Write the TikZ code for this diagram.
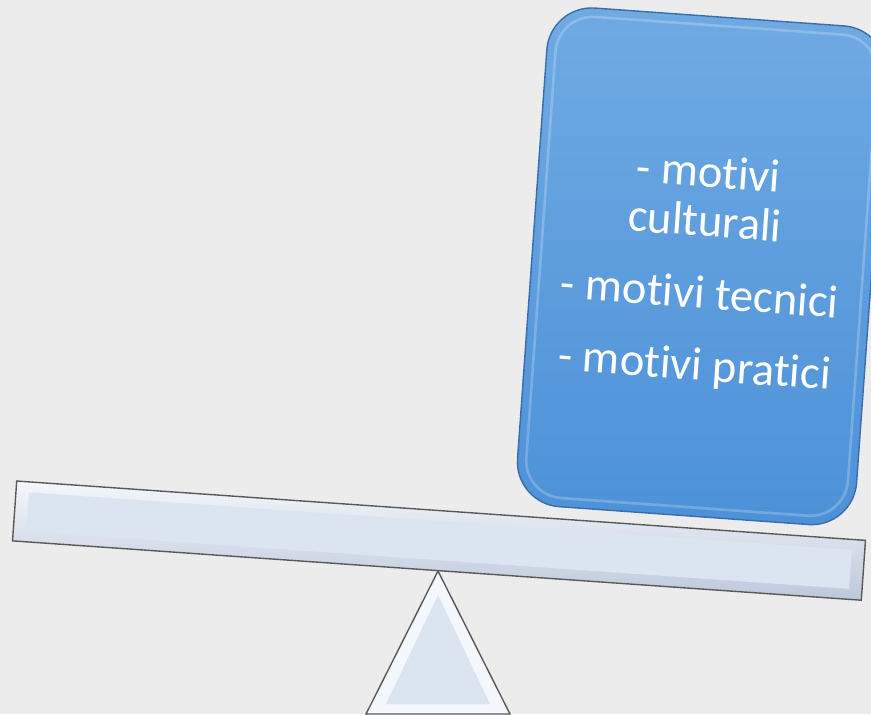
\documentclass[tikz,border=0pt]{standalone}
\usepackage{fontspec}
\setmainfont[Ligatures=NoCommon]{Carlito}
\usetikzlibrary{shapes.geometric}

\definecolor{sfondo}{RGB}{236,236,236}
\definecolor{barra}{RGB}{219,229,242}
\definecolor{barrachiara}{RGB}{244,247,252}
\definecolor{barrascura}{RGB}{188,200,218}
\definecolor{bluchiaro}{RGB}{112,170,227}
\definecolor{bluscuro}{RGB}{76,145,216}
\definecolor{blubordo}{RGB}{58,110,170}

\begin{document}
\begin{tikzpicture}[x=0.02cm, y=-0.02cm,
    % Stili
    trave/.style={
        draw=black!65, thick, inner sep=0pt,
        top color=barrachiara, bottom color=barrascura,
        minimum width=17.02cm, minimum height=1.2cm, rotate=-4
    },
    faccia/.style={
        fill=barra, inner sep=0pt, rotate=-4
    },
    peso/.style={
        draw=blubordo, thick, rounded corners=0.9cm,
        top color=bluchiaro, bottom color=bluscuro,
        minimum width=6.8cm, minimum height=10cm, rotate=-4.1,
        text=white, align=center, font=\fontsize{26.5}{28}\selectfont
    },
    bordino/.style={
        draw=white, draw opacity=0.22, line width=1.5pt, rounded corners=0.75cm,
        inner sep=0pt, rotate=-4.1
    }
]

% sfondo
\fill[sfondo] (0,0) rectangle (871,714);
\useasboundingbox (0,0) rectangle (871,714);

% =============================================
% FULCRO
% =============================================
\coordinate (apice) at (438,571);
\coordinate (baseS) at (366,714);
\coordinate (baseD) at (510,714);
\filldraw[draw=black!65, thick, fill=barrachiara] (apice) -- (baseD) -- (baseS) -- cycle;
\fill[barra] (438,595) -- (490,704) -- (386,704) -- cycle;

% =============================================
% TRAVE
% =============================================
\node[trave] (trave) at (439,540.6) {};
\node[faccia, minimum width=16.5cm, minimum height=0.78cm] (faccia) at (trave.center) {};

% =============================================
% PESO
% =============================================
\node[peso] (peso) at (701.7,266.3)
    {\rule{0pt}{24pt}- motivi\\culturali\\[13pt]- motivi tecnici\\[13pt]- motivi pratici};
\node[bordino, minimum width=6.45cm, minimum height=9.65cm] (bordino) at (peso.center) {};

\end{tikzpicture}
\end{document}
